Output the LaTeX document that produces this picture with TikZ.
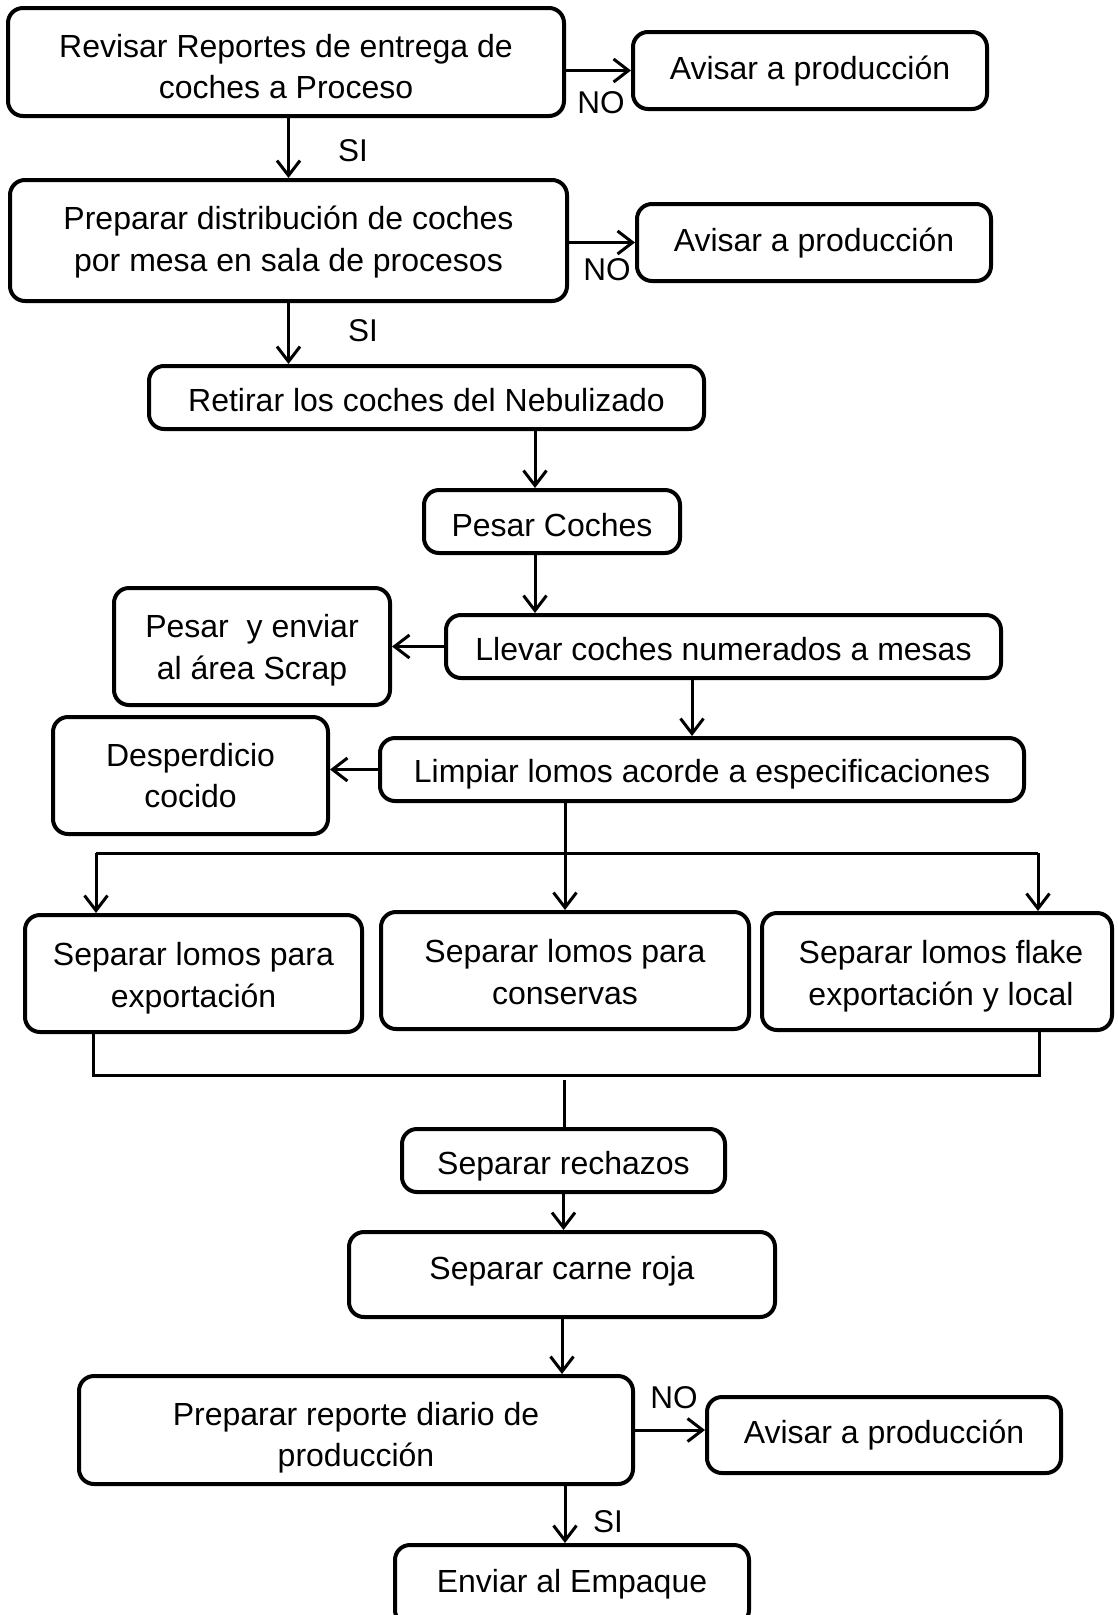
\documentclass[tikz,border=0pt]{standalone}
\usepackage{fontspec}
\setmainfont{Liberation Sans}
\usetikzlibrary{arrows.meta}
\begin{document}
\begin{tikzpicture}[x=1pt,y=-1pt,
 box/.style={draw,line width=4pt,rounded corners=15pt,inner sep=0pt},
 txt/.style={inner sep=0pt,align=center,font=\fontsize{32}{41.8}\selectfont},
 conn/.style={line width=3pt},
 arr/.style={conn,-{Straight Barb[length=15pt,width=23pt]}},
 lbl/.style={font=\fontsize{31.5}{38}\selectfont,inner sep=0pt}]
\useasboundingbox (0,0) rectangle (1117,1615);
% boxes
\node[box,minimum width=556pt,minimum height=108pt] (b1) at (286,62) {};
\node[txt] (b1t) at ([yshift=-4.6pt]b1.center) {Revisar Reportes de entrega de\\coches a Proceso};
\node[box,minimum width=354pt,minimum height=77pt] (a1) at (810,70.5) {};
\node[txt] (a1t) at ([yshift=-1pt]a1.center) {Avisar a producción};
\node[box,minimum width=557pt,minimum height=121pt] (b2) at (288.5,240.5) {};
\node[txt] (b2t) at ([yshift=-1.5pt]b2.center) {Preparar distribución de coches\\por mesa en sala de procesos};
\node[box,minimum width=354pt,minimum height=77pt] (a2) at (814,242.5) {};
\node[txt] (a2t) at ([yshift=-1pt]a2.center) {Avisar a producción};
\node[box,minimum width=555pt,minimum height=63pt] (b3) at (426.5,397.5) {};
\node[txt] (b3t) at ([yshift=-3pt]b3.center) {Retirar los coches del Nebulizado};
\node[box,minimum width=256pt,minimum height=63pt] (b4) at (552,521.5) {};
\node[txt] (b4t) at ([yshift=-4pt]b4.center) {Pesar Coches};
\node[box,minimum width=555pt,minimum height=63pt] (b5) at (723.5,646.5) {};
\node[txt] (b5t) at ([yshift=-3pt]b5.center) {Llevar coches numerados a mesas};
\node[box,minimum width=276pt,minimum height=117pt] (scrap) at (252,646.5) {};
\node[txt] (scrapt) at ([yshift=-3.6pt]scrap.center) {Pesar~ y enviar\\al área Scrap};
\node[box,minimum width=644pt,minimum height=63pt] (b6) at (702,769.5) {};
\node[txt] (b6t) at ([yshift=-5pt]b6.center) {Limpiar lomos acorde a especificaciones};
\node[box,minimum width=275pt,minimum height=117pt] (desp) at (190.5,775.5) {};
\node[txt] (despt) at (desp.center) {Desperdicio\\cocido};
\node[box,minimum width=337pt,minimum height=117pt] (exp) at (193.5,973.5) {};
\node[txt] (expt) at ([yshift=-4.6pt]exp.center) {Separar lomos para\\exportación};
\node[box,minimum width=368pt,minimum height=117pt] (cons) at (565,970.5) {};
\node[txt] (const) at ([yshift=-1.5pt]cons.center) {Separar lomos para\\conservas};
\node[box,minimum width=350pt,minimum height=117pt] (flake) at (937,971.5) {};
\node[txt] (flaket) at ([xshift=4pt,yshift=-5pt]flake.center) {Separar lomos flake\\exportación y local};
\node[box,minimum width=323pt,minimum height=63pt] (rech) at (563.5,1160.5) {};
\node[txt] (recht) at ([yshift=-6pt]rech.center) {Separar rechazos};
\node[box,minimum width=426pt,minimum height=85pt] (roja) at (562,1274.5) {};
\node[txt] (rojat) at ([yshift=3pt]roja.center) {Separar carne roja};
\node[box,minimum width=554pt,minimum height=108pt] (rep) at (356,1430) {};
\node[txt] (rept) at ([yshift=-7.7pt]rep.center) {Preparar reporte diario de\\producción};
\node[box,minimum width=354pt,minimum height=76pt] (a3) at (884,1435) {};
\node[txt] (a3t) at (a3.center) {Avisar a producción};
\node[box,minimum width=354pt,minimum height=80pt] (env) at (572,1585) {};
\node[txt] (envt) at ([yshift=1pt]env.center) {Enviar al Empaque};
% connectors
\draw[arr] (b1.east |- a1.west) -- (a1.west);
\node[lbl] (no1) at (601,103) {NO};
\draw[arr] (b1.south -| b2.north) -- (b2.north);
\node[lbl] (si1) at (353,151) {SI};
\draw[arr] (b2.east |- a2.west) -- (a2.west);
\node[lbl] (no2) at (607,270) {NO};
\draw[arr] (b2.south) -- (b2.south |- b3.north);
\node[lbl] (si2) at (363,331) {SI};
\coordinate (x34) at (535,0);
\draw[arr] (b3.south -| x34) -- (b4.north -| x34);
\draw[arr] (b4.south -| x34) -- (b5.north -| x34);
\draw[arr] (b5.west |- scrap.east) -- (scrap.east);
\coordinate (x56) at (692,0);
\draw[arr] (b5.south -| x56) -- (b6.north -| x56);
\draw[arr] (b6.west) -- (b6.west -| desp.east);
\coordinate (sl) at (96,853);
\coordinate (sr) at (1038,853);
\draw[arr] (b6.south -| cons.north) -- (cons.north);
\draw[conn] (sl) -- (sr);
\draw[arr] (sl) -- (sl |- exp.north);
\draw[arr] (sr) -- (sr |- flake.north);
\coordinate (ml) at (93,1075);
\coordinate (mr) at (1039,1075);
\draw[conn] (exp.south -| ml) -- (ml) -- (mr) -- (flake.south -| mr);
\coordinate (mc) at (564,1080);
\draw[conn] (mc) -- (mc |- rech.north);
\draw[arr] (rech.south) -- (rech.south |- roja.north);
\draw[arr] (roja.south) -- (roja.south |- rep.north);
\draw[arr] (rep.east) -- (rep.east -| a3.west);
\node[lbl] (no3) at (674,1398) {NO};
\coordinate (xe) at (565,0);
\draw[arr] (rep.south -| xe) -- (env.north -| xe);
\node[lbl] (si3) at (608,1522) {SI};
\end{tikzpicture}
\end{document}
